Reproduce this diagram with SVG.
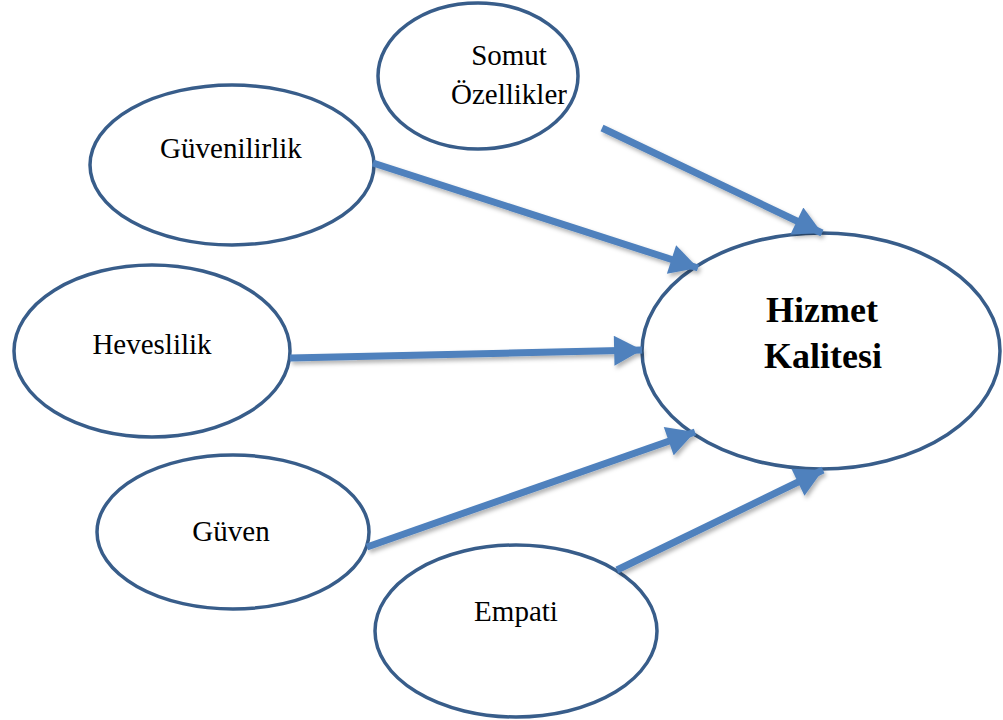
<svg xmlns="http://www.w3.org/2000/svg" width="1003" height="720" viewBox="0 0 1003 720">
  <style>
    .node ellipse { fill: #ffffff; stroke: #385d8a; stroke-width: 3.5; }
    .lbl { font-family: "Liberation Serif", "Times New Roman", serif; font-size: 29px; fill: #000; text-anchor: middle; }
    .main { font-family: "Liberation Serif", "Times New Roman", serif; font-size: 36px; font-weight: bold; fill: #000; text-anchor: middle; }
    .conn line { stroke: #4f81bd; stroke-width: 7; marker-end: url(#head); }
  </style>
  <defs>
    <marker id="head" markerUnits="userSpaceOnUse" markerWidth="30" markerHeight="30" viewBox="0 0 26 28" refX="26" refY="14" orient="auto">
      <path d="M0,0 L26,14 L0,28 Z" fill="#4f81bd"/>
    </marker>
    <filter id="shadow" x="-10%" y="-10%" width="120%" height="140%">
      <feDropShadow dx="2" dy="3" stdDeviation="2" flood-color="#000" flood-opacity="0.3"/>
    </filter>
  </defs>

  <g id="node-somut" class="node">
    <ellipse cx="478" cy="76" rx="100" ry="73"/>
    <text class="lbl" x="509" y="65">Somut</text>
    <text class="lbl" x="509" y="104">Özellikler</text>
  </g>
  <g id="node-guvenilirlik" class="node">
    <ellipse cx="232" cy="165" rx="142" ry="80"/>
    <text class="lbl" x="231" y="158">Güvenilirlik</text>
  </g>
  <g id="node-heveslilik" class="node">
    <ellipse cx="152" cy="351" rx="138" ry="86"/>
    <text class="lbl" x="152" y="354">Heveslilik</text>
  </g>
  <g id="node-guven" class="node">
    <ellipse cx="233" cy="532" rx="136" ry="77"/>
    <text class="lbl" x="231" y="541">Güven</text>
  </g>
  <g id="node-empati" class="node">
    <ellipse cx="516" cy="631" rx="141" ry="86"/>
    <text class="lbl" x="516" y="621">Empati</text>
  </g>
  <g id="node-hizmet" class="node">
    <ellipse cx="821" cy="351" rx="179" ry="118"/>
    <text class="main" x="822" y="322">Hizmet</text>
    <text class="main" x="823" y="368">Kalitesi</text>
  </g>

  <g id="connectors" class="conn" filter="url(#shadow)">
    <line x1="602" y1="128" x2="822" y2="233"/>
    <line x1="373" y1="163" x2="698" y2="268"/>
    <line x1="290" y1="358" x2="642" y2="350"/>
    <line x1="367" y1="547" x2="695" y2="432"/>
    <line x1="617" y1="570" x2="823" y2="470"/>
  </g>
</svg>
